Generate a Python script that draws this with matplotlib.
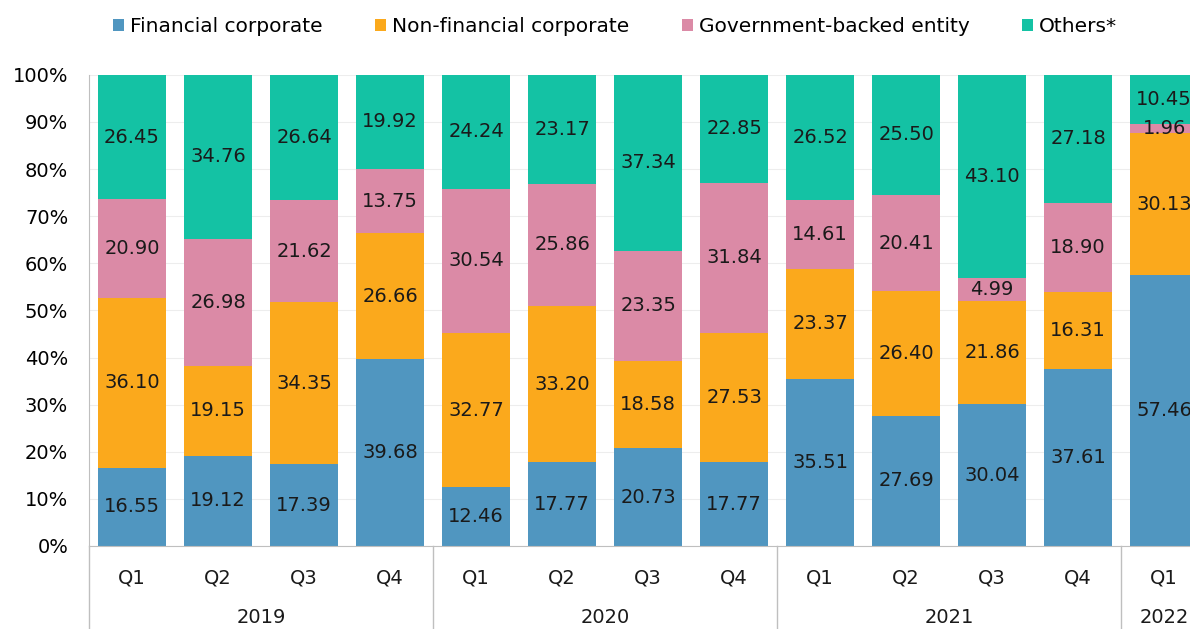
import numpy as np
import matplotlib.pyplot as plt
from matplotlib.patches import Patch
from matplotlib.transforms import blended_transform_factory

plt.rcParams['font.family'] = ['DejaVu Sans']

# Quarterly share of issuance by issuer type (%)
quarters = ['Q1', 'Q2', 'Q3', 'Q4', 'Q1', 'Q2', 'Q3', 'Q4', 'Q1', 'Q2', 'Q3', 'Q4', 'Q1']
years = ['2019', '2020', '2021', '2022']
year_sizes = [4, 4, 4, 1]

financial = [16.55, 19.12, 17.39, 39.68, 12.46, 17.77, 20.73, 17.77, 35.51, 27.69, 30.04, 37.61, 57.46]
non_financial = [36.10, 19.15, 34.35, 26.66, 32.77, 33.20, 18.58, 27.53, 23.37, 26.40, 21.86, 16.31, 30.13]
government = [20.90, 26.98, 21.62, 13.75, 30.54, 25.86, 23.35, 31.84, 14.61, 20.41, 4.99, 18.90, 1.96]
others = [26.45, 34.76, 26.64, 19.92, 24.24, 23.17, 37.34, 22.85, 26.52, 25.50, 43.10, 27.18, 10.45]

series = [
    ('Financial corporate', financial, '#5096C0'),
    ('Non-financial corporate', non_financial, '#FBA91C'),
    ('Government-backed entity', government, '#DB8AA6'),
    ('Others*', others, '#14C2A4'),
]

FS = 14
fig = plt.figure(figsize=(11.9, 6.29), dpi=100)
ax = fig.add_axes([0.0748, 0.132, 0.9252, 0.749])

x = np.arange(len(quarters))
bottom = np.zeros(len(quarters))
for name, vals, color in series:
    vals = np.array(vals)
    ax.bar(x, vals, width=0.79, bottom=bottom, color=color, zorder=2)
    for xi, b, v in zip(x, bottom, vals):
        ax.text(xi, b + v / 2, f'{v:.2f}', ha='center', va='center',
                fontsize=FS, color='#1a1a1a', zorder=3)
    bottom += vals

ax.set_xlim(-0.5, 12.30)
ax.set_ylim(0, 100)
ax.set_yticks(np.arange(0, 101, 10))
ax.set_yticklabels([f'{v}%' for v in range(0, 101, 10)], fontsize=FS)
ax.yaxis.grid(True, color='#EDEDED', linewidth=0.8, zorder=0)
ax.set_axisbelow(True)
ax.tick_params(axis='y', length=0, pad=15)
ax.tick_params(axis='x', length=0)
ax.set_xticks(x)
ax.set_xticklabels([])

for side in ['top', 'right']:
    ax.spines[side].set_visible(False)
ax.spines['left'].set_color('#BFBFBF')
ax.spines['bottom'].set_color('#BFBFBF')

# Quarter labels and year groups under the axis
trans = blended_transform_factory(ax.transData, ax.transAxes)
for xi, q in zip(x, quarters):
    ax.text(xi, -0.068, q, transform=trans, ha='center', va='center',
            fontsize=FS, color='#1a1a1a', clip_on=False)

start = 0
bounds = [-0.5]
for yr, n in zip(years, year_sizes):
    ax.text(start + (n - 1) / 2, -0.151, yr, transform=trans, ha='center',
            va='center', fontsize=FS, color='#1a1a1a', clip_on=False)
    start += n
    bounds.append(start - 0.5)
for b in bounds[:-1]:
    ax.plot([b, b], [0, -0.18], transform=trans, color='#BFBFBF',
            linewidth=1, clip_on=False)

handles = [Patch(facecolor=c, edgecolor='none') for _, _, c in series]
labels = [n for n, _, _ in series]
fig.legend(handles, labels, loc='center', bbox_to_anchor=(0.517, 0.958),
           ncol=4, frameon=False, fontsize=14.5, handlelength=0.55,
           handleheight=0.55, handletextpad=0.3, columnspacing=2.6)

fig.savefig('out.png', dpi=100)
